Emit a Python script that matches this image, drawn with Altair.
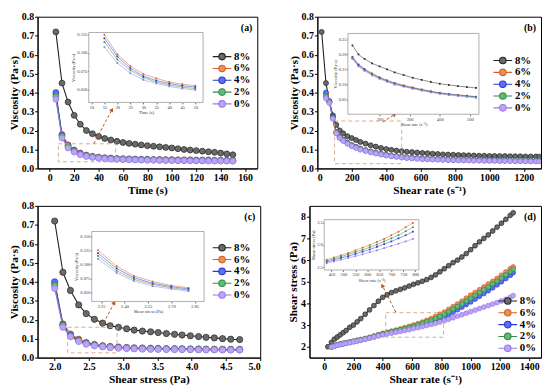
import math
import altair as alt
import pandas as pd

SERIES = ["8%", "6%", "4%", "2%", "0%"]
LINE = ["#222222", "#d4612a", "#2438d4", "#2e8e45", "#9877e6"]
FILL = ["#6a6a6a", "#ec8d58", "#5a70f2", "#62ba74", "#bba4f7"]
FONT = "Liberation Serif"

# ---------------- panel (a): viscosity vs time ----------------
time_s = [5, 10, 15, 20, 25, 30, 35, 40, 45, 50, 55, 60, 65, 70, 75, 80, 85, 90, 95, 100,
          105, 110, 115, 120, 125, 130, 135, 140, 145, 150]
a_8 = [0.72, 0.45, 0.35, 0.28, 0.233, 0.20, 0.183, 0.169, 0.158, 0.150, 0.143, 0.137, 0.132, 0.128, 0.124,
       0.120, 0.117, 0.114, 0.111, 0.108, 0.104, 0.100, 0.097, 0.094, 0.091, 0.088, 0.085, 0.081, 0.077, 0.072]
a_6 = [0.39, 0.180, 0.125, 0.098, 0.082, 0.071, 0.065, 0.060, 0.057, 0.055, 0.053, 0.052, 0.051, 0.050, 0.049,
       0.049, 0.048, 0.048, 0.047, 0.047, 0.046, 0.046, 0.046, 0.045, 0.045, 0.045, 0.044, 0.044, 0.044, 0.043]
a_4 = [0.40, 0.175, 0.120, 0.095, 0.079, 0.068, 0.062, 0.058, 0.055, 0.053, 0.051, 0.050, 0.049, 0.048, 0.047,
       0.047, 0.046, 0.046, 0.045, 0.045, 0.044, 0.044, 0.044, 0.043, 0.043, 0.043, 0.042, 0.042, 0.042, 0.041]
a_2 = [0.38, 0.170, 0.115, 0.091, 0.076, 0.066, 0.060, 0.056, 0.053, 0.051, 0.049, 0.048, 0.047, 0.046, 0.045,
       0.045, 0.044, 0.044, 0.043, 0.043, 0.042, 0.042, 0.042, 0.041, 0.041, 0.041, 0.040, 0.040, 0.040, 0.040]
a_0 = [0.365, 0.160, 0.108, 0.086, 0.072, 0.063, 0.058, 0.054, 0.051, 0.049, 0.048, 0.047, 0.046, 0.045, 0.044,
       0.043, 0.043, 0.042, 0.042, 0.041, 0.041, 0.041, 0.040, 0.040, 0.040, 0.039, 0.039, 0.039, 0.039, 0.038]

# ---------------- panels (b) and (d): shear rate ----------------
shear_rate = [25, 50, 70, 90, 110, 130, 150, 175, 200, 225, 250, 280, 310, 340, 370, 400, 430, 460, 490, 520,
              550, 580, 610, 640, 670, 700, 730, 760, 790, 820, 850, 880, 910, 940, 970, 1000, 1030, 1060, 1090,
              1120, 1150, 1180, 1210, 1240, 1270, 1290]
b_8 = [0.72, 0.45, 0.35, 0.28, 0.23, 0.20, 0.185, 0.17, 0.16, 0.15,
       0.14, 0.131, 0.122, 0.115, 0.108, 0.102, 0.098, 0.094, 0.091, 0.088,
       0.086, 0.084, 0.082, 0.080, 0.078, 0.076, 0.074, 0.073, 0.072, 0.071,
       0.070, 0.069, 0.068, 0.067, 0.067, 0.066, 0.066, 0.065, 0.065, 0.064,
       0.064, 0.064, 0.063, 0.063, 0.063, 0.062]
b_6 = [None, 0.39, 0.352, 0.268, 0.192, 0.167, 0.152, 0.137, 0.124, 0.114,
       0.105, 0.097, 0.090, 0.083, 0.077, 0.072, 0.068, 0.065, 0.062, 0.059,
       0.057, 0.055, 0.053, 0.052, 0.051, 0.050, 0.049, 0.048, 0.047, 0.047,
       0.046, 0.046, 0.045, 0.045, 0.044, 0.044, 0.044, 0.043, 0.043, 0.043,
       0.042, 0.042, 0.042, 0.041, 0.041, 0.041]
b_4 = [None, 0.40, 0.355, 0.27, 0.19, 0.165, 0.15, 0.135, 0.122, 0.112,
       0.103, 0.095, 0.088, 0.082, 0.076, 0.071, 0.067, 0.064, 0.061, 0.058,
       0.056, 0.054, 0.052, 0.051, 0.050, 0.049, 0.048, 0.047, 0.046, 0.046,
       0.045, 0.045, 0.044, 0.044, 0.043, 0.043, 0.043, 0.042, 0.042, 0.042,
       0.041, 0.041, 0.041, 0.040, 0.040, 0.040]
b_2 = [None, 0.38, 0.35, 0.266, 0.188, 0.163, 0.148, 0.133, 0.121, 0.111,
       0.102, 0.094, 0.087, 0.081, 0.075, 0.070, 0.066, 0.063, 0.060, 0.057,
       0.055, 0.053, 0.051, 0.050, 0.049, 0.048, 0.047, 0.046, 0.045, 0.045,
       0.044, 0.044, 0.043, 0.043, 0.042, 0.042, 0.042, 0.041, 0.041, 0.041,
       0.040, 0.040, 0.040, 0.039, 0.039, 0.039]
b_0 = [None, 0.37, 0.345, 0.262, 0.185, 0.16, 0.145, 0.13, 0.118, 0.108,
       0.099, 0.092, 0.085, 0.079, 0.073, 0.068, 0.064, 0.061, 0.058, 0.055,
       0.053, 0.051, 0.049, 0.048, 0.047, 0.046, 0.045, 0.044, 0.043, 0.043,
       0.042, 0.042, 0.041, 0.041, 0.040, 0.040, 0.040, 0.039, 0.039, 0.039,
       0.038, 0.038, 0.038, 0.037, 0.037, 0.037]

d_8 = [2.0, 2.2, 2.35, 2.45, 2.55, 2.65, 2.75, 2.9, 3.0, 3.15,
       3.3, 3.5, 3.7, 3.9, 4.1, 4.28, 4.4, 4.5, 4.58, 4.65,
       4.72, 4.8, 4.88, 4.95, 5.02, 5.1, 5.2, 5.32, 5.46, 5.6,
       5.74, 5.88, 6.0, 6.14, 6.3, 6.48, 6.66, 6.84, 7.0, 7.16,
       7.34, 7.52, 7.7, 7.88, 8.06, 8.18]
d_6 = [None, 2.0, 2.05, 2.1, 2.13, 2.16, 2.19, 2.22, 2.26, 2.3,
       2.34, 2.38, 2.44, 2.5, 2.56, 2.62, 2.67, 2.72, 2.77, 2.82,
       2.88, 2.94, 3.0, 3.07, 3.14, 3.22, 3.3, 3.4, 3.5, 3.6,
       3.72, 3.85, 3.97, 4.1, 4.24, 4.38, 4.5, 4.63, 4.76, 4.89,
       5.02, 5.15, 5.3, 5.45, 5.6, 5.68]
d_4 = [None, 1.99, 2.03, 2.08, 2.11, 2.14, 2.17, 2.2, 2.24, 2.28,
       2.31, 2.36, 2.41, 2.46, 2.52, 2.58, 2.62, 2.66, 2.71, 2.75,
       2.8, 2.85, 2.9, 2.96, 3.02, 3.08, 3.15, 3.22, 3.3, 3.39,
       3.49, 3.6, 3.71, 3.83, 3.95, 4.07, 4.2, 4.33, 4.46, 4.59,
       4.72, 4.86, 5.0, 5.15, 5.3, 5.42]
d_2 = [None, 2.0, 2.04, 2.09, 2.12, 2.15, 2.18, 2.21, 2.25, 2.29,
       2.32, 2.37, 2.42, 2.48, 2.54, 2.6, 2.64, 2.69, 2.74, 2.79,
       2.84, 2.89, 2.95, 3.01, 3.08, 3.15, 3.22, 3.31, 3.4, 3.5,
       3.62, 3.74, 3.86, 3.98, 4.11, 4.24, 4.37, 4.5, 4.63, 4.76,
       4.9, 5.03, 5.17, 5.32, 5.47, 5.58]
d_0 = [None, 1.98, 2.02, 2.07, 2.1, 2.13, 2.16, 2.19, 2.23, 2.26,
       2.3, 2.35, 2.4, 2.45, 2.5, 2.55, 2.59, 2.63, 2.67, 2.71,
       2.75, 2.79, 2.84, 2.88, 2.93, 2.98, 3.03, 3.08, 3.14, 3.2,
       3.27, 3.34, 3.41, 3.48, 3.55, 3.62, 3.69, 3.76, 3.83, 3.9,
       3.97, 4.04, 4.11, 4.19, 4.28, 4.36]

# ---------------- panel (c): viscosity vs shear stress ----------------
shear_stress = [2.0, 2.12, 2.23, 2.35, 2.46, 2.58, 2.70, 2.81, 2.93, 3.05, 3.16, 3.28, 3.40, 3.51, 3.63,
                3.75, 3.86, 3.98, 4.10, 4.21, 4.33, 4.45, 4.57, 4.70]
c_8 = [0.72, 0.45, 0.354, 0.278, 0.232, 0.202, 0.182, 0.168, 0.16, 0.152, 0.145, 0.14, 0.136, 0.132, 0.127,
       0.123, 0.119, 0.115, 0.111, 0.107, 0.104, 0.10, 0.097, 0.095]
c_6 = [0.39, 0.178, 0.125, 0.097, 0.080, 0.070, 0.063, 0.059, 0.056, 0.054, 0.052, 0.051, 0.050, 0.049, 0.048,
       0.047, 0.047, 0.046, 0.046, 0.045, 0.045, 0.044, 0.044, 0.044]
c_4 = [0.40, 0.175, 0.12, 0.093, 0.077, 0.067, 0.061, 0.057, 0.054, 0.052, 0.050, 0.049, 0.048, 0.047, 0.046,
       0.046, 0.045, 0.045, 0.044, 0.044, 0.043, 0.043, 0.043, 0.042]
c_2 = [0.38, 0.17, 0.115, 0.089, 0.074, 0.065, 0.059, 0.055, 0.052, 0.050, 0.048, 0.047, 0.046, 0.045, 0.045,
       0.044, 0.044, 0.043, 0.043, 0.042, 0.042, 0.042, 0.041, 0.041]
c_0 = [0.365, 0.16, 0.11, 0.085, 0.071, 0.062, 0.057, 0.053, 0.050, 0.048, 0.046, 0.045, 0.044, 0.044, 0.043,
       0.043, 0.042, 0.042, 0.041, 0.041, 0.041, 0.040, 0.040, 0.040]

# legend symbol: a short line with a ball, drawn wider than the nominal symbol box
LEG_PATH = "M-2,0H-0.7M0.7,0H2M-0.7,0A0.7,0.7,0,1,1,0.7,0A0.7,0.7,0,1,1,-0.7,0Z"
LEG_SIZE = 90
LEG_HALF = math.sqrt(LEG_SIZE) / 2


def long_df(xs, cols, xname, yname):
    rows = []
    for s, vals in zip(SERIES, cols):
        for xv, yv in zip(xs, vals):
            if yv is not None:
                rows.append({xname: xv, yname: yv, "series": s})
    return pd.DataFrame(rows)


def panel(df, xname, yname, xdom, ydom, xticks, yticks, xfmt, yfmt, xtitle, ytitle,
          W, H, leg, tag, inset, box, arrow, ptsize):
    xs = alt.Scale(domain=xdom, nice=False, zero=False)
    ys = alt.Scale(domain=ydom, nice=False, zero=False)
    xax = alt.Axis(values=xticks, format=xfmt, title=xtitle)
    yax = alt.Axis(values=yticks, format=yfmt, title=ytitle)
    X = alt.X(f"{xname}:Q", scale=xs, axis=xax)
    Y = alt.Y(f"{yname}:Q", scale=ys, axis=yax)
    legend = alt.Legend(orient="none", legendX=leg[0] + LEG_HALF, legendY=leg[1], title=None,
                        symbolType=LEG_PATH, symbolSize=LEG_SIZE, symbolStrokeWidth=1.1,
                        labelFont=FONT, labelFontSize=11, labelFontWeight="bold", labelColor="black",
                        labelOffset=LEG_HALF + 2, rowPadding=-3, padding=0)
    stroke = alt.Stroke("series:N", scale=alt.Scale(domain=SERIES, range=LINE), legend=legend)
    fill = alt.Fill("series:N", scale=alt.Scale(domain=SERIES, range=FILL), legend=legend)
    base = alt.Chart(df)
    lines = base.mark_line(strokeWidth=1.1, clip=True).encode(x=X, y=Y, stroke=stroke)
    pts = base.mark_point(shape="circle", filled=True, size=ptsize, opacity=1, strokeWidth=0.7,
                          clip=True).encode(x=X, y=Y, fill=fill, stroke=stroke)

    box_df = pd.DataFrame({xname: [box[0]], "xe": [box[1]], yname: [box[2]], "ye": [box[3]]})
    boxm = alt.Chart(box_df).mark_rect(fillOpacity=0, stroke="#d9a07a", strokeWidth=0.9,
                                       strokeDash=[4, 3]).encode(x=X, x2="xe:Q", y=Y, y2="ye:Q")
    ar_df = pd.DataFrame({xname: [arrow[0]], yname: [arrow[1]], "xe": [arrow[2]], "ye": [arrow[3]]})
    arm = alt.Chart(ar_df).mark_rule(stroke="#b85a22", strokeWidth=1, strokeDash=[3, 2]).encode(
        x=X, y=Y, x2="xe:Q", y2="ye:Q")
    dxp = (arrow[2] - arrow[0]) / (xdom[1] - xdom[0]) * W
    dyp = -(arrow[3] - arrow[1]) / (ydom[1] - ydom[0]) * H
    ang = math.degrees(math.atan2(dxp, -dyp)) % 360
    head_df = pd.DataFrame({xname: [arrow[2]], yname: [arrow[3]]})
    head = alt.Chart(head_df).mark_point(shape="triangle-up", filled=True, size=22, angle=ang,
                                         color="#b85a22", opacity=1).encode(x=X, y=Y)
    tagm = alt.Chart(pd.DataFrame({"t": [tag]})).mark_text(
        align="right", baseline="top", font=FONT, fontWeight="bold", fontSize=10, color="black"
    ).encode(text="t:N", x=alt.value(W - 5), y=alt.value(6))
    main = alt.layer(lines, pts, boxm, arm, head, tagm)

    # ---- inset ----
    ixd, iyd, px, py, ixt, iyt, ixf, iyf = inset
    ixs = alt.Scale(domain=ixd, range=[px[0], px[1]], nice=False, zero=False)
    iys = alt.Scale(domain=iyd, range=[py[1], py[0]], nice=False, zero=False)
    common = dict(labelFontSize=4.5, titleFontSize=4.5, labelFontWeight="normal", titleFontWeight="normal",
                  tickSize=1.5, labelPadding=0.5, titlePadding=1, domain=False, grid=False,
                  tickColor="#666", labelColor="#333", titleColor="#333")
    ixa = alt.Axis(orient="bottom", offset=-(H - py[1]), values=ixt, format=ixf, title=xtitle, **common)
    iya = alt.Axis(orient="left", offset=-px[0], values=iyt, format=iyf, title=ytitle, **common)
    IX = alt.X(f"{xname}:Q", scale=ixs, axis=ixa)
    IY = alt.Y(f"{yname}:Q", scale=iys, axis=iya)
    frame_df = pd.DataFrame({xname: [ixd[0]], "xe": [ixd[1]], yname: [iyd[0]], "ye": [iyd[1]]})
    frame = alt.Chart(frame_df).mark_rect(fill="white", stroke="#8a8a8a", strokeWidth=0.7).encode(
        x=IX, x2="xe:Q", y=IY, y2="ye:Q")
    icolor = alt.Color("series:N", scale=alt.Scale(domain=SERIES, range=LINE), legend=None)
    ib = alt.Chart(df).transform_filter(
        alt.FieldRangePredicate(field=xname, range=list(ixd))
    ).transform_filter(
        alt.FieldRangePredicate(field=yname, range=list(iyd))
    )
    il = ib.mark_line(strokeWidth=0.6, opacity=0.85).encode(x=IX, y=IY, color=icolor)
    ip = ib.mark_square(size=3, opacity=1).encode(x=IX, y=IY, color=icolor)
    ins = alt.layer(frame, il, ip)

    return alt.layer(main, ins).resolve_scale(x="independent", y="independent").properties(width=W, height=H)


H = 154
WA, WB, WC, WD = 223, 227, 226, 235

df_a = long_df(time_s, [a_8, a_6, a_4, a_2, a_0], "time", "visc")
df_b = long_df(shear_rate, [b_8, b_6, b_4, b_2, b_0], "rate", "visc")
df_c = long_df(shear_stress, [c_8, c_6, c_4, c_2, c_0], "stress", "visc")
df_d = long_df(shear_rate, [d_8, d_6, d_4, d_2, d_0], "rate", "tau")

visc_ticks = [0.0, 0.1, 0.2, 0.3, 0.4, 0.5, 0.6, 0.7, 0.8]

pa = panel(df_a, "time", "visc", [-10, 170], [0, 0.8], list(range(0, 161, 20)), visc_ticks, "d", ".1f",
           "Time (s)", "Viscosity (Pa·s)", WA, H, (177, 35), "(a)",
           ([9, 53], [0.032, 0.128], (52, 168), (16, 87), list(range(10, 51, 5)),
            [0.050, 0.075, 0.100, 0.125], "d", ".3f"),
           (7, 54, 0.035, 0.13), (36, 0.13, 51, 0.31), 36)

pb = panel(df_b, "rate", "visc", [0, 1300], [0, 0.8], list(range(0, 1201, 200)), visc_ticks, "d", ".1f",
           "Shear rate (s⁻¹)", "Viscosity (Pa·s)", WB, H, (178, 39), "(b)",
           ([95, 530], [0.0, 0.27], (31, 164), (17, 99), [200, 300, 400, 500],
            [0.05, 0.10, 0.15, 0.20, 0.25], "d", ".2f"),
           (100, 490, 0.025, 0.25), (379, 0.245, 450, 0.285), 26)

pc = panel(df_c, "stress", "visc", [1.75, 5.0], [0, 0.8], [2.0, 2.5, 3.0, 3.5, 4.0, 4.5, 5.0], visc_ticks,
           ".1f", ".1f", "Shear stress (Pa)", "Viscosity (Pa·s)", WC, H, (177, 37), "(c)",
           ([2.19, 2.91], [0.035, 0.158], (55, 169), (26, 97), [2.25, 2.40, 2.55, 2.70, 2.85],
            [0.050, 0.075, 0.100, 0.125, 0.150], ".2f", ".3f"),
           (2.19, 2.91, 0.025, 0.16), (2.68, 0.16, 2.87, 0.29), 40)

pd_ = panel(df_d, "rate", "tau", [-100, 1480], [1.5, 8.5], list(range(0, 1401, 200)), [2, 3, 4, 5, 6, 7, 8],
            "d", "d", "Shear rate (s⁻¹)", "Shear stress (Pa)", WD, H, (191, 91), "(d)",
            ([420, 815], [2.44, 3.57], (15, 111), (14, 65), list(range(450, 801, 50)),
             [2.5, 3.0, 3.5], "d", ".1f"),
            (420, 815, 2.44, 3.57), (489, 3.6, 397, 4.83), 24)

ind = dict(fill="independent", stroke="independent", color="independent")
row1 = alt.hconcat(pa, pb, spacing=30).resolve_scale(**ind)
row2 = alt.hconcat(pc, pd_, spacing=26).resolve_scale(**ind)
chart = alt.vconcat(row1, row2, spacing=4).resolve_scale(**ind).properties(padding=0).configure_view(
    stroke="black", strokeWidth=1
).configure_axis(
    labelFont=FONT, titleFont=FONT, labelFontWeight="bold", titleFontWeight="bold",
    labelFontSize=10, titleFontSize=11.5, labelColor="black", titleColor="black",
    domainColor="black", tickColor="black", grid=False, tickSize=3, labelPadding=1, titlePadding=2
)

chart.save("out.html", embed_options={"renderer": "svg", "actions": False})
